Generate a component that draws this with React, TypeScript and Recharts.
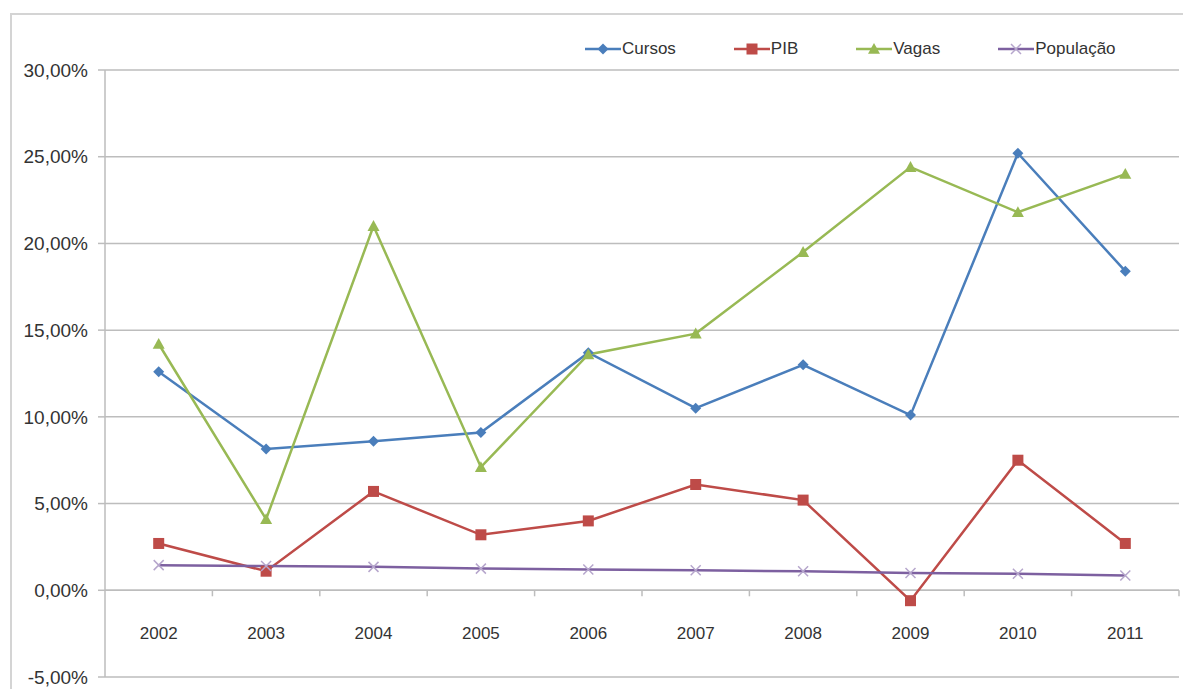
import React from "react"
import {
  LineChart,
  Line,
  XAxis,
  YAxis,
  CartesianGrid,
  ReferenceLine,
} from "recharts"

const years = ["2002", "2003", "2004", "2005", "2006", "2007", "2008", "2009", "2010", "2011"]
const cursos = [12.6, 8.15, 8.6, 9.1, 13.7, 10.5, 13.0, 10.1, 25.2, 18.4]
const pib = [2.7, 1.1, 5.7, 3.2, 4.0, 6.1, 5.2, -0.6, 7.5, 2.7]
const vagas = [14.2, 4.1, 21.0, 7.1, 13.6, 14.8, 19.5, 24.4, 21.8, 24.0]
const populacao = [1.45, 1.4, 1.35, 1.25, 1.2, 1.15, 1.1, 1.0, 0.95, 0.85]
const yTicks = [-5, 0, 5, 10, 15, 20, 25, 30]

const data = years.map((year, i) => ({
  year,
  Cursos: cursos[i],
  PIB: pib[i],
  Vagas: vagas[i],
  População: populacao[i],
}))

const W = 1183
const H = 689
const PLOT_LEFT = 105
const PLOT_RIGHT = 1179
const PLOT_TOP = 70
const PLOT_BOTTOM = 677
const CAT_W = (PLOT_RIGHT - PLOT_LEFT) / years.length
const ZERO_Y = PLOT_TOP + (30 / 35) * (PLOT_BOTTOM - PLOT_TOP)

const FONT = "'Liberation Sans', Arial, sans-serif"
const TEXT = "#333333"
const GRID = "#bdbdbd"

const BLUE = "#4a7ebb"
const RED = "#be4b48"
const GREEN = "#98b954"
const PURPLE = "#7d60a0"
const LAVENDER = "#b6a6cc"

const fmt = (v: number) => v.toFixed(2).replace(".", ",") + "%"

const Diamond = ({ cx, cy, color, s = 5.5 }: any) => (
  <path d={`M${cx},${cy - s} L${cx + s},${cy} L${cx},${cy + s} L${cx - s},${cy} Z`} fill={color} />
)
const Square = ({ cx, cy, color, s = 5.5 }: any) => (
  <rect x={cx - s} y={cy - s} width={s * 2} height={s * 2} fill={color} />
)
const Triangle = ({ cx, cy, color, s = 6 }: any) => (
  <path d={`M${cx},${cy - s} L${cx + s},${cy + s * 0.8} L${cx - s},${cy + s * 0.8} Z`} fill={color} />
)
const Cross = ({ cx, cy, color, s = 5 }: any) => (
  <path d={`M${cx - s},${cy - s} L${cx + s},${cy + s} M${cx + s},${cy - s} L${cx - s},${cy + s}`} stroke={color} strokeWidth={1.5} />
)

const markers: Record<string, any> = {
  Cursos: (p: any) => <Diamond key={`c${p.index}`} cx={p.cx} cy={p.cy} color={BLUE} />,
  PIB: (p: any) => <Square key={`p${p.index}`} cx={p.cx} cy={p.cy} color={RED} />,
  Vagas: (p: any) => <Triangle key={`v${p.index}`} cx={p.cx} cy={p.cy} color={GREEN} />,
  População: (p: any) => <Cross key={`x${p.index}`} cx={p.cx} cy={p.cy} color={LAVENDER} />,
}

const series = [
  { key: "Cursos", color: BLUE },
  { key: "PIB", color: RED },
  { key: "Vagas", color: GREEN },
  { key: "População", color: PURPLE },
]

const XTick = ({ x, payload }: any) => (
  <g>
    <line x1={x + CAT_W / 2} x2={x + CAT_W / 2} y1={ZERO_Y} y2={ZERO_Y + 6} stroke={GRID} strokeWidth={1.5} />
    <text x={x} y={ZERO_Y + 49} textAnchor="middle" fill={TEXT} fontSize={17} fontFamily={FONT}>
      {payload.value}
    </text>
  </g>
)

const ChartLegend = () => (
  <div
    style={{
      position: "absolute",
      left: 585,
      top: 39,
      display: "flex",
      alignItems: "center",
      fontFamily: FONT,
      fontSize: 17,
      color: TEXT,
    }}
  >
    {series.map((s) => (
      <div key={s.key} style={{ display: "flex", alignItems: "center", marginRight: 58 }}>
        <svg width={36} height={14}>
          <line x1={0} x2={36} y1={7} y2={7} stroke={s.color} strokeWidth={2.5} />
          {markers[s.key]({ cx: 18, cy: 7, index: 0 })}
        </svg>
        <span style={{ marginLeft: 1 }}>{s.key}</span>
      </div>
    ))}
  </div>
)

export default function App() {
  return (
    <div style={{ position: "absolute", left: 0, top: 0, width: W, height: H, background: "#fff", overflow: "hidden" }}>
      <div
        style={{
          position: "absolute",
          left: 10,
          top: 13,
          width: W,
          height: H,
          borderLeft: "2px solid #d4d4d4",
          borderTop: "2px solid #d4d4d4",
        }}
      />
      <div style={{ position: "absolute", left: 0, top: 0 }}>
        <LineChart
          width={W}
          height={H}
          data={data}
          margin={{ top: PLOT_TOP, right: W - PLOT_RIGHT, left: 0, bottom: H - PLOT_BOTTOM - 1 }}
        >
          <CartesianGrid vertical={false} stroke={GRID} strokeWidth={1.5} />
          <XAxis
            dataKey="year"
            height={1}
            axisLine={false}
            tickLine={false}
            tick={<XTick />}
            interval={0}
            padding={{ left: CAT_W / 2, right: CAT_W / 2 }}
          />
          <YAxis
            width={PLOT_LEFT}
            domain={[-5, 30]}
            ticks={yTicks}
            tickFormatter={fmt}
            tickSize={7}
            tickMargin={10}
            axisLine={{ stroke: GRID, strokeWidth: 1.5 }}
            tickLine={{ stroke: GRID, strokeWidth: 1.5 }}
            tick={{ fill: TEXT, fontSize: 19, fontFamily: FONT }}
          />
          <ReferenceLine y={0} stroke={GRID} strokeWidth={1.5} />
          {series.map((s) => (
            <Line
              key={s.key}
              dataKey={s.key}
              stroke={s.color}
              strokeWidth={2.5}
              dot={markers[s.key]}
              activeDot={false}
              isAnimationActive={false}
            />
          ))}
        </LineChart>
      </div>
      <ChartLegend />
    </div>
  )
}
